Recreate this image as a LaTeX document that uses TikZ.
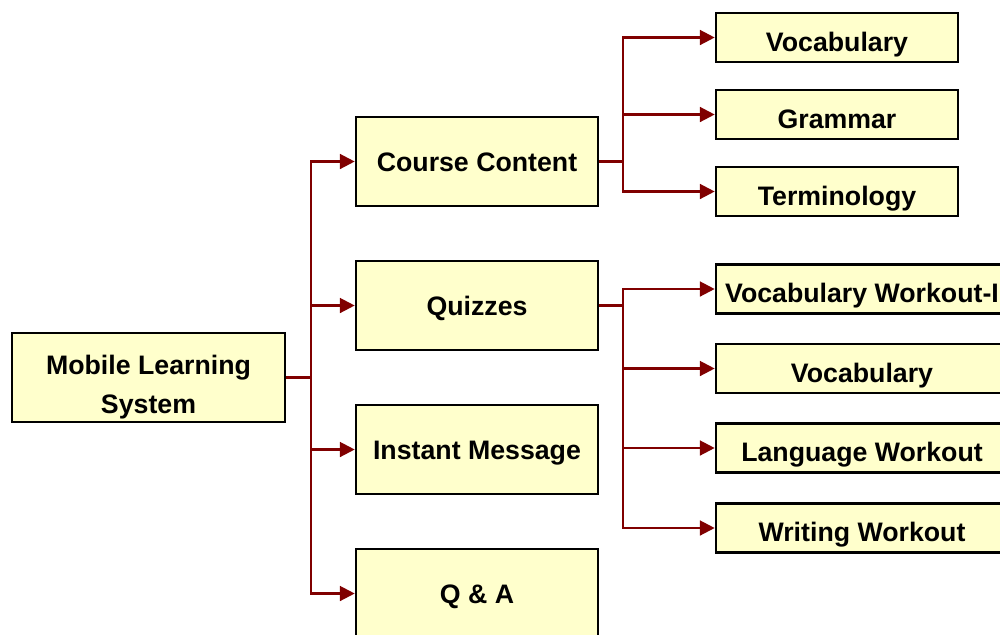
\documentclass[tikz,border=0pt]{standalone}
\usepackage{fontspec}
\setmainfont{Liberation Sans}
\usepackage{tikz}
\usetikzlibrary{arrows.meta, positioning, calc}
\definecolor{boxfill}{RGB}{255,255,204}
\definecolor{linkcolor}{RGB}{128,0,0}
\tikzset{
  mlbox/.style={draw=black, line width=1.8pt, fill=boxfill, align=center,
                font=\bfseries\fontsize{19}{27.2}\selectfont, inner sep=0pt},
  rootbox/.style={mlbox, minimum width=6.825cm, minimum height=2.225cm,
                  text height=1.775cm, text depth=0pt},
  itembox/.style={mlbox, minimum width=6.05cm, minimum height=2.225cm,
                  text height=0.5cm, text depth=0pt},
  leafbox/.style={mlbox, minimum width=#1, minimum height=1.225cm,
                  text height=0.675cm, text depth=0pt},
  leafbox/.default=6.05cm,
  link/.style={draw=linkcolor, line width=1.6pt},
  flow/.style={link, -{Triangle[length=0.37cm, width=0.37cm]}, color=linkcolor},
}

\begin{document}
\begin{tikzpicture}[x=0.025cm, y=-0.025cm]
  \useasboundingbox (0,0) rectangle (1000,634);
  \clip (0,0) rectangle (1000,634);

  % Root
  \node[rootbox] (root) at (148.5,377.5) {Mobile Learning\\System};

  % Modules
  \node[itembox] (course)  at (477,161.5) {Course Content};
  \node[itembox] (quiz)    at (477,305.5) {Quizzes};
  \node[itembox] (message) at (477,449.5) {Instant Message};
  \node[itembox] (qa)      at (477,593.5) {Q \& A};

  % Course content leaves
  \node[leafbox] (vocab)   at (837,37.5)  {Vocabulary};
  \node[leafbox] (grammar) at (837,114.5) {Grammar};
  \node[leafbox] (term)    at (837,191.5) {Terminology};

  % Quiz leaves
  \node[leafbox=7.3cm] (vworkout) at (862,289)   {Vocabulary Workout-I};
  \node[leafbox=7.3cm] (vquiz)    at (862,368.5) {Vocabulary};
  \node[leafbox=7.3cm] (lworkout) at (862,448)   {Language Workout};
  \node[leafbox=7.3cm] (wworkout) at (862,528)   {Writing Workout};

  % Root to modules
  \coordinate (rtrunk) at ($(root.east)+(25,0)$);
  \draw[link] (root.east) -- (rtrunk);
  \draw[flow] (rtrunk) |- (course.west);
  \draw[flow] (rtrunk) |- (quiz.west);
  \draw[flow] (rtrunk) |- (message.west);
  \draw[flow] (rtrunk) |- (qa.west);

  % Course content to leaves
  \coordinate (ctrunk) at ($(course.east)+(24,0)$);
  \draw[link] (course.east) -- (ctrunk);
  \draw[flow] (ctrunk) |- (vocab.west);
  \draw[flow] (ctrunk) |- (grammar.west);
  \draw[flow] (ctrunk) |- (term.west);

  % Quizzes to leaves
  \coordinate (qtrunk) at ($(quiz.east)+(24,0)$);
  \draw[link] (quiz.east) -- (qtrunk);
  \draw[flow] (qtrunk) |- (vworkout.west);
  \draw[flow] (qtrunk) |- (vquiz.west);
  \draw[flow] (qtrunk) |- (lworkout.west);
  \draw[flow] (qtrunk) |- (wworkout.west);
\end{tikzpicture}
\end{document}
